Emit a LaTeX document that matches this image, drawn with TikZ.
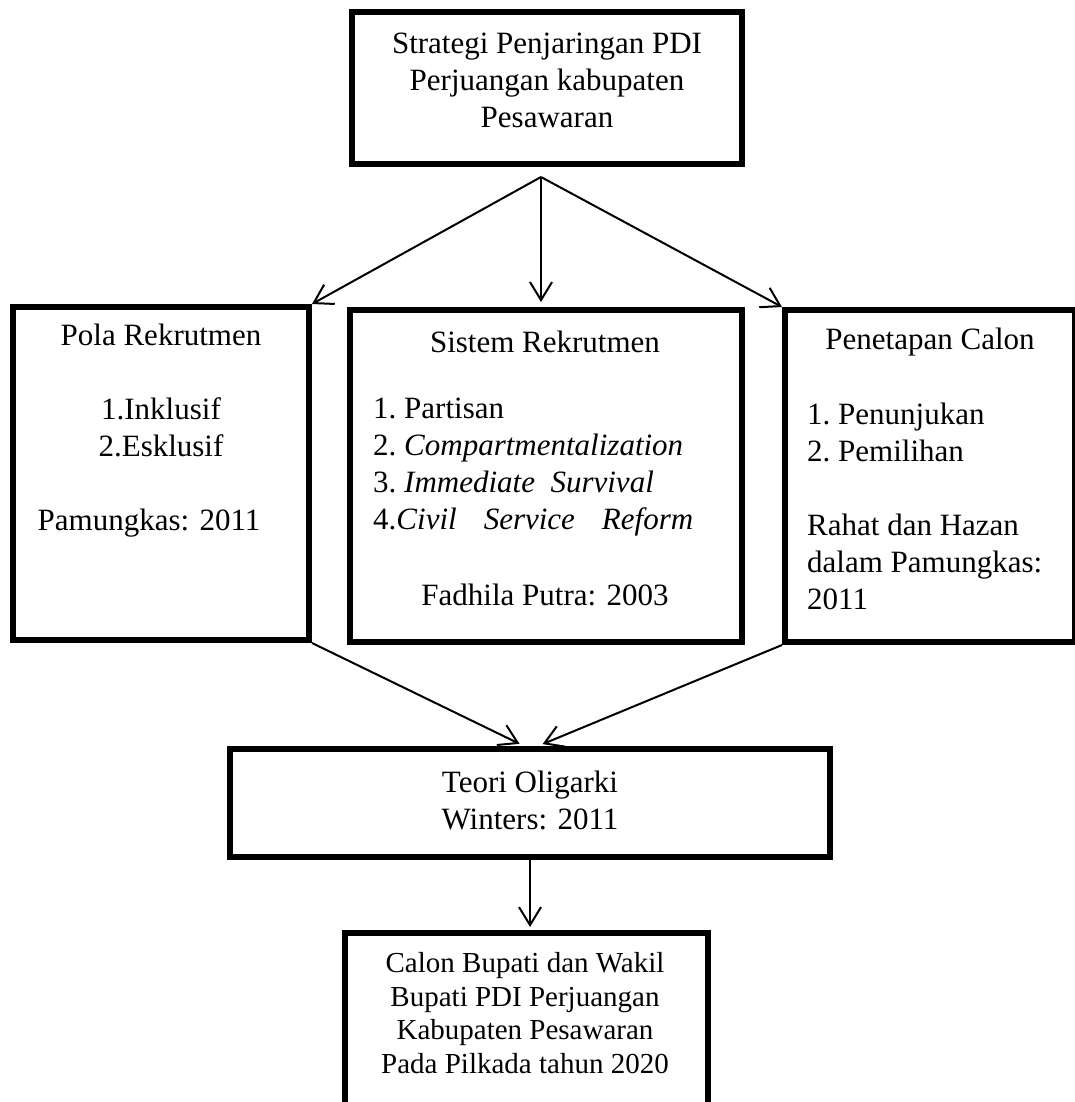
\documentclass[tikz,border=0pt]{standalone}
\usepackage{fontspec}
\setmainfont{Liberation Serif}
\usetikzlibrary{arrows.meta}
\tikzset{
	kotak/.style={draw, line width=6pt, inner sep=0pt},
	teks/.style={font=\fontsize{31}{37}\selectfont, align=center, inner sep=0pt},
	panah/.style={-{Straight Barb[length=18pt,width=22pt]}, line width=2pt}
}
\begin{document}
\begin{tikzpicture}[x=1pt,y=-1pt]
		\useasboundingbox (0,0) rectangle (1074,1102);
		\node[kotak, minimum width=390pt, minimum height=152pt] (strategi) at (547,88) {};
		\node[kotak, minimum width=296pt, minimum height=333pt] (pola) at (161,473.5) {};
		\node[kotak, minimum width=392pt, minimum height=332pt] (sistem) at (546,476) {};
		\node[kotak, minimum width=290pt, minimum height=332pt] (penetapan) at (930,476) {};
		\node[kotak, minimum width=600pt, minimum height=108pt] (teori) at (530,803) {};
		\node[kotak, minimum width=363pt, minimum height=194pt] (calon) at (526.5,1030) {};
		\node[teks] (strategiteks) at (547,80) {Strategi Penjaringan PDI\\Perjuangan kabupaten\\Pesawaran};
		\node[teks] (polateks) at (161,431) {Pola Rekrutmen\\[37pt]1.Inklusif\\2.Esklusif\\[37pt]Pamungkas: 2011\hspace*{24pt}};
		\node[teks] (sistemjudul) at (545,342) {Sistem Rekrutmen};
		\node[teks, anchor=west, align=left] (sistemdaftar) at (373,467) {1.~Partisan\\2.~\textit{Compartmentalization}\\3.~\textit{Immediate\ \ Survival}\\\makebox[320pt][s]{4.\textit{Civil Service Reform}}};
		\node[teks] (sistemsumber) at (545,595) {Fadhila Putra: 2003};
		\node[teks] (penetapanjudul) at (930,342) {Penetapan Calon};
		\node[teks, anchor=west, align=left] (penetapandaftar) at (807,506) {1.~Penunjukan\\2.~Pemilihan\\[37pt]Rahat dan Hazan\\dalam Pamungkas:\\2011};
		\node[teks] (teoriteks) at (530,800) {Teori Oligarki\\Winters: 2011};
		\node[teks, font=\fontsize{29}{33.5}\selectfont] (calonteks) at (525,1013) {Calon Bupati dan Wakil\\Bupati PDI Perjuangan\\Kabupaten Pesawaran\\Pada Pilkada tahun 2020};
		\coordinate (cabang) at (541,177);
		\draw[panah] (cabang) -- (pola.north east);
		\draw[panah, shorten >=5pt] (cabang) -- (cabang |- sistem.north);
		\draw[panah] (cabang) -- (penetapan.north west);
		\draw[panah, shorten >=5pt] (pola.south east) -- ([xshift=-6pt]teori.north);
		\draw[panah, shorten >=5pt] (penetapan.south west) -- ([xshift=8pt]teori.north);
		\draw[panah, shorten >=3pt] (teori.south) -- (teori.south |- calon.north);
	\end{tikzpicture}
\end{document}
